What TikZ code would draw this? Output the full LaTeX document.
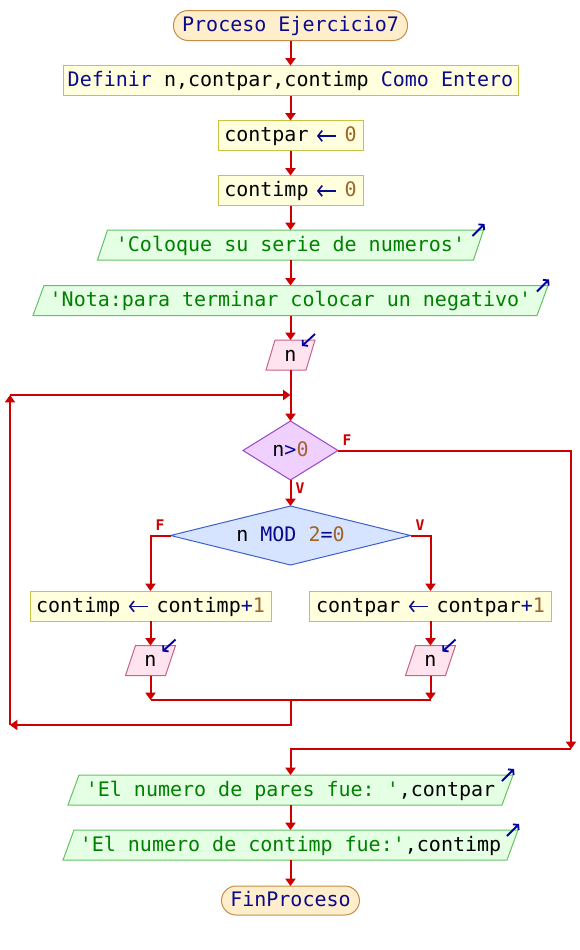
\documentclass[tikz,border=0pt]{standalone}
\usepackage{fontspec}
\setmonofont{DejaVu Sans Mono}
\usetikzlibrary{arrows.meta,calc}
\pgfdeclarelayer{bg}
\pgfsetlayers{bg,main}
\definecolor{flow}{RGB}{204,0,0}
\definecolor{kw}{RGB}{10,10,140}
\definecolor{num}{RGB}{160,100,40}
\definecolor{str}{RGB}{0,128,0}
\definecolor{termfill}{RGB}{255,238,204}
\definecolor{termdraw}{RGB}{200,140,70}
\definecolor{procfill}{RGB}{255,255,221}
\definecolor{procdraw}{RGB}{200,195,70}
\definecolor{outfill}{RGB}{228,255,228}
\definecolor{outdraw}{RGB}{100,195,100}
\definecolor{infill}{RGB}{255,228,240}
\definecolor{indraw}{RGB}{200,100,140}
\definecolor{dafill}{RGB}{240,208,255}
\definecolor{dadraw}{RGB}{150,70,200}
\definecolor{dbfill}{RGB}{214,228,255}
\definecolor{dbdraw}{RGB}{64,96,200}
\definecolor{icon}{RGB}{0,0,160}
\newcommand\asg{\makebox[0.602em][c]{\tikz[baseline=0pt,x=1pt,y=1pt]\draw[kw,line width=1.2pt,-{Straight Barb[length=3.2pt,width=8pt]}] (14.5pt,4.2pt) -- (0pt,4.2pt);}}
% parallelogram around a node: name, skew(px), fill, draw
\newcommand\iopara[4]{\draw[draw=#4,fill=#3,line width=0.75pt]
  ($(#1.south west)+(-#2/2,0)$) -- ($(#1.north west)+(#2/2,0)$) --
  ($(#1.north east)+(#2/2,0)$) -- ($(#1.south east)+(-#2/2,0)$) -- cycle;}
\newcommand\dshape[3]{\draw[draw=#3,fill=#2,line width=0.75pt]
  (#1.north) -- (#1.east) -- (#1.south) -- (#1.west) -- cycle;}
\newcommand\outicon[2]{\draw[icon,line width=1.4pt,-{Straight Barb[length=2.5pt,width=6pt]}]
  ($(#1.north east)+(#2/2-11,6)$) -- ($(#1.north east)+(#2/2+1,-6)$);}
\newcommand\inicon[2]{\draw[icon,line width=1.4pt,-{Straight Barb[length=2.5pt,width=6pt]}]
  ($(#1.north east)+(#2/2,-6)$) -- ($(#1.north east)+(#2/2-13,6)$);}
\begin{document}
\begin{tikzpicture}[x=0.75pt,y=-0.75pt,
  txt/.style={font=\ttfamily\fontsize{15}{18}\selectfont, inner sep=0pt, outer sep=0pt,
    text height=11.4pt, text depth=2.4pt},
  wh/.style 2 args={minimum width=#1*0.75pt, minimum height=#2*0.75pt},
  term/.style={txt, draw=termdraw, fill=termfill, line width=0.75pt, rounded corners=11pt},
  proc/.style={txt, draw=procdraw, fill=procfill, line width=0.75pt},
  flowline/.style={draw=flow, line width=1.5pt},
  arr/.style={flowline, -{Triangle[length=5.5pt,width=7.5pt]}},
  lbl/.style={text=flow, font=\ttfamily\bfseries\fontsize{11}{13}\selectfont, inner sep=0pt}
]
\begin{pgfonlayer}{bg}
\fill[white] (0,0) rectangle (580,950);
\end{pgfonlayer}
\useasboundingbox (0,0) rectangle (580,950);

\node[term, wh={234}{30}] (start) at (290.5,25.5) {\textcolor{kw}{Proceso Ejercicio7}};
\node[proc, wh={455}{30}] (def) at (290.5,80.5) {\textcolor{kw}{Definir} n,contpar,contimp \textcolor{kw}{Como Entero}};
\node[proc, wh={145}{30}] (cp0) at (290.5,135.5) {contpar \asg{} \textcolor{num}{0}};
\node[proc, wh={145}{30}] (ci0) at (290.5,190.5) {contimp \asg{} \textcolor{num}{0}};
\node[txt, wh={376}{30}] (o1) at (290.5,245) {\textcolor{str}{'Coloque su serie de numeros'}};
\node[txt, wh={504}{30}] (o2) at (290.5,300.5) {\textcolor{str}{'Nota:para terminar colocar un negativo'}};
\node[txt, wh={40}{30}] (in1) at (290.5,355) {n};
\node[txt, wh={95}{59}] (d1) at (290.5,450.5) {n\textcolor{kw}{>}\textcolor{num}{0}};
\node[txt, wh={240}{59}] (d2) at (290.5,535.5) {n \textcolor{kw}{MOD} \textcolor{num}{2}\textcolor{kw}{=}\textcolor{num}{0}};
\node[proc, wh={241}{30}] (pimp) at (150.5,606) {contimp \asg{} contimp\textcolor{kw}{+}\textcolor{num}{1}};
\node[proc, wh={242}{30}] (ppar) at (430.5,606) {contpar \asg{} contpar\textcolor{kw}{+}\textcolor{num}{1}};
\node[txt, wh={40}{30}] (inL) at (150.5,660.5) {n};
\node[txt, wh={40}{30}] (inR) at (430.5,660.5) {n};
\node[txt, wh={434}{30}] (o3) at (290.5,790) {\textcolor{str}{'El numero de pares fue: '},contpar};
\node[txt, wh={444}{30}] (o4) at (290.5,845) {\textcolor{str}{'El numero de contimp fue:'},contimp};
\node[term, wh={138}{29}] (end) at (290.5,900.5) {\textcolor{kw}{FinProceso}};

\node[lbl] (lF1) at (347,440) {F};
\node[lbl] (lV1) at (300,488) {V};
\node[lbl] (lF2) at (160,525) {F};
\node[lbl] (lV2) at (420,525) {V};

\begin{pgfonlayer}{bg}
\iopara{o1}{10}{outfill}{outdraw}
\iopara{o2}{11}{outfill}{outdraw}
\iopara{o3}{11}{outfill}{outdraw}
\iopara{o4}{11}{outfill}{outdraw}
\iopara{in1}{9}{infill}{indraw}
\iopara{inL}{10}{infill}{indraw}
\iopara{inR}{10}{infill}{indraw}
\dshape{d1}{dafill}{dadraw}
\dshape{d2}{dbfill}{dbdraw}
\end{pgfonlayer}

\outicon{o1}{10}
\outicon{o2}{11}
\outicon{o3}{11}
\outicon{o4}{11}
\inicon{in1}{9}
\inicon{inL}{10}
\inicon{inR}{10}

\coordinate (entry) at (290.5,395);
\coordinate (loopTop) at (10,395);
\coordinate (loopBot) at (10,725);
\coordinate (back) at (290.5,725);
\coordinate (merge) at (290.5,700);
\coordinate (mL) at (150.5,700);
\coordinate (mR) at (430.5,700);
\coordinate (fR) at (571,450.5);
\coordinate (fB) at (571,749);
\coordinate (exit) at (290.5,749);

\draw[arr] (start) -- (def);
\draw[arr] (def) -- (cp0);
\draw[arr] (cp0) -- (ci0);
\draw[arr] (ci0) -- (o1);
\draw[arr] (o1) -- (o2);
\draw[arr] (o2) -- (in1);
\draw[arr] (in1.south) -- (d1.north);
\draw[arr] (d1.south) -- (d2.north);
\draw[arr] (d1.east) -- (fR) -- (fB);
\draw[arr] (fB) -- (exit) -- (o3.north);
\draw[arr] (d2.west) -| (pimp.north);
\draw[arr] (d2.east) -| (ppar.north);
\draw[arr] (pimp) -- (inL);
\draw[arr] (ppar) -- (inR);
\draw[arr] (inL.south) -- (mL);
\draw[arr] (inR.south) -- (mR);
\draw[flowline] (mL) -- (mR);
\draw[arr] (merge) -- (back) -- (loopBot);
\draw[arr] (loopBot) -- (loopTop);
\draw[arr] (loopTop) -- (entry);
\draw[arr] (o3) -- (o4);
\draw[arr] (o4) -- (end);
\end{tikzpicture}
\end{document}
